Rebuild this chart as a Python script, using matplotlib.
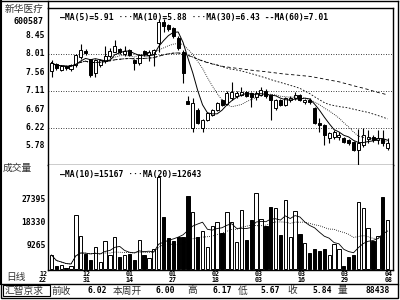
import numpy as np
import pandas as pd
import matplotlib
matplotlib.use("Agg")
import matplotlib.pyplot as plt
from matplotlib.patches import Rectangle

# ---------------- data ----------------
opens = [7.60, 7.76, 7.62, 7.72, 7.64, 7.74, 7.94, 8.08, 7.88, 7.55,
         7.74, 7.83, 7.95, 8.07, 8.12, 8.00, 8.10, 7.87, 7.80, 8.09,
         7.98, 8.00, 8.27, 8.78, 8.72, 8.64, 8.40, 8.07, 6.86, 6.20,
         6.65, 6.21, 6.40, 6.53, 6.65, 6.89, 6.80, 6.94, 7.00, 7.01,
         7.08, 7.06, 6.96, 7.01, 7.10, 7.01, 6.70, 6.89, 6.77, 6.88,
         6.94, 7.02, 6.84, 6.90, 6.69, 6.33, 6.28, 5.97, 5.99, 6.00,
         5.97, 5.92, 5.87, 5.68, 5.79, 5.95, 6.00, 5.92, 5.94, 5.72]
highs = [7.86, 7.78, 7.75, 7.74, 7.76, 8.02, 8.25, 8.12, 7.90, 7.90,
         7.90, 8.20, 8.15, 8.34, 8.16, 8.20, 8.12, 7.90, 8.00, 8.11,
         8.10, 8.12, 8.85, 8.85, 8.75, 8.66, 8.45, 8.10, 7.00, 6.94,
         6.70, 6.42, 6.60, 6.68, 6.85, 6.92, 7.10, 7.34, 7.12, 7.20,
         7.12, 7.08, 7.12, 7.20, 7.15, 7.03, 6.92, 6.92, 6.97, 6.98,
         7.08, 7.04, 6.92, 6.93, 6.72, 6.45, 6.30, 6.12, 6.15, 6.10,
         6.00, 5.95, 5.90, 6.19, 6.22, 6.15, 6.05, 6.17, 6.17, 5.96]
lows = [7.45, 7.62, 7.60, 7.62, 7.60, 7.70, 7.90, 7.98, 7.45, 7.46,
        7.70, 7.80, 7.92, 8.05, 8.00, 7.96, 7.95, 7.63, 7.75, 7.96,
        7.85, 7.72, 8.05, 8.55, 8.58, 8.40, 8.10, 7.30, 6.79, 6.12,
        6.30, 6.12, 6.38, 6.50, 6.62, 6.75, 6.78, 6.90, 6.95, 6.98,
        6.96, 6.72, 6.90, 6.98, 6.95, 6.40, 6.65, 6.75, 6.74, 6.85,
        6.90, 6.86, 6.80, 6.80, 6.30, 6.10, 5.80, 5.85, 5.95, 5.92,
        5.85, 5.80, 5.65, 5.30, 5.75, 5.85, 5.88, 5.82, 5.76, 5.67]
closes = [7.80, 7.66, 7.72, 7.66, 7.73, 7.99, 8.10, 8.03, 7.50, 7.86,
          7.86, 7.97, 8.08, 8.20, 8.07, 8.08, 7.98, 7.78, 7.99, 8.00,
          8.07, 8.10, 8.80, 8.70, 8.62, 8.45, 8.16, 7.54, 6.79, 6.81,
          6.33, 6.40, 6.57, 6.65, 6.82, 6.77, 7.05, 7.08, 7.06, 7.09,
          6.98, 6.96, 7.06, 7.13, 7.00, 6.89, 6.89, 6.77, 6.94, 6.95,
          7.02, 6.89, 6.88, 6.84, 6.33, 6.28, 6.04, 6.09, 6.11, 6.05,
          5.87, 5.84, 5.67, 5.85, 6.04, 6.00, 5.92, 5.96, 5.84, 5.84]
volumes = [5700, 1400, 1800, 500, 1400, 21500, 13200, 6100, 3700, 8700,
           3000, 11300, 5700, 12700, 5000, 5700, 6000, 3700, 11600, 5700,
           4700, 8000, 36600, 20600, 12300, 11300, 12900, 12900, 29000, 22800,
           12700, 15300, 8700, 17100, 18700, 14300, 22800, 18700, 10800, 23400,
           11600, 19500, 30000, 20000, 17100, 24700, 24100, 13500, 27400, 12900,
           23200, 13800, 10300, 6400, 8000, 7400, 8200, 5700, 10190, 8000,
           1400, 5000, 5700, 26600, 24200, 16200, 11300, 13200, 28500, 19570]
date_labels = ["12\n22", "12\n31", "01\n14", "01\n27", "02\n18",
               "03\n03", "03\n16", "03\n29", "04\n08"]
price_ticks = [8.45, 8.01, 7.56, 7.11, 6.67, 6.22, 5.78]
price_grid = [8.01, 7.11, 6.22]
vol_ticks = [27395, 18330, 9265]
stock_name = "新华医疗"
stock_code = "600587"
info_labels = ["前收", "本周开", "高", "低", "收", "量"]
info_values = ["6.02", "6.00", "6.17", "5.67", "5.84", "88438"]

# ---------------- setup ----------------
MONO = "DejaVu Sans Mono"
CJK = ["Noto Sans CJK SC", "DejaVu Sans"]
W, H = 400, 300

def fx(x):
    return x / W

def fy(y):
    return 1 - y / H

fig = plt.figure(figsize=(4, 3), dpi=100)
fig.patch.set_facecolor("white")

o = np.array(opens); h = np.array(highs); l = np.array(lows); c = np.array(closes)
v = np.array(volumes)
n = len(c)
x = np.arange(n)
up = c >= o

# price axes
ax = fig.add_axes([fx(48), fy(165), fx(345), 157 / H])
ax.set_xlim(-0.72, 70.1)
ax.set_ylim(5.309, 9.129)
for g in price_grid:
    ax.axhline(g, color="black", lw=0.6, ls=(0, (1, 2)), zorder=0)
ax.vlines(x, l, h, color="black", lw=0.8, zorder=2)
bw = 0.62
for i in range(n):
    lo_b = min(o[i], c[i]); hi_b = max(o[i], c[i])
    hgt = max(hi_b - lo_b, 0.012)
    ax.add_patch(Rectangle((x[i] - bw / 2, lo_b), bw, hgt,
                           facecolor="white" if up[i] else "black",
                           edgecolor="black", lw=0.7, zorder=3))
cs = pd.Series(c)
ma5 = cs.rolling(5, min_periods=1).mean()
ma10 = cs.rolling(10, min_periods=1).mean()
ma30 = cs.rolling(30, min_periods=1).mean()
ma60 = cs.rolling(60, min_periods=1).mean()
ax.plot(x, ma5, color="black", lw=0.7, zorder=4)
ax.plot(x, ma10, color="black", lw=0.6, ls=(0, (1, 1.5)), zorder=4)
ax.plot(x, ma30, color="black", lw=0.6, ls=(0, (2, 2)), zorder=4)
ax.plot(x, ma60, color="black", lw=0.6, ls=(0, (4, 3)), zorder=4)
ax.set_xticks([]); ax.set_yticks([])
for s in ax.spines.values():
    s.set_linewidth(1.0)
ax.text(0.035, 0.965, "—MA(5)=%.2f ···MA(10)=%.2f ···MA(30)=%.2f --MA(60)=%.2f"
        % (ma5.iloc[-1], ma10.iloc[-1], ma30.iloc[-1], ma60.iloc[-1]),
        transform=ax.transAxes, ha="left", va="top", fontsize=5.8,
        family=MONO, weight="bold")

# volume axes
axv = fig.add_axes([fx(48), fy(270), fx(345), 105 / H])
axv.set_xlim(-0.72, 70.1)
axv.set_ylim(-200, 41170)
axv.bar(x, v, width=0.68, color=["white" if u else "black" for u in up],
        edgecolor="black", lw=0.7, zorder=3)
vs = pd.Series(v.astype(float))
vma10 = vs.rolling(10, min_periods=1).mean()
vma20 = vs.rolling(20, min_periods=1).mean()
axv.plot(x, vma10, color="black", lw=0.6, zorder=4)
axv.plot(x, vma20, color="black", lw=0.6, ls=(0, (1, 1.5)), zorder=4)
axv.set_xticks([]); axv.set_yticks([])
for s in axv.spines.values():
    s.set_linewidth(1.0)
axv.spines["top"].set_visible(False)
axv.text(0.035, 0.95, "—MA(10)=%d ···MA(20)=%d" % (round(vma10.iloc[-1]), round(vma20.iloc[-1])),
         transform=axv.transAxes, ha="left", va="top", fontsize=5.8,
         family=MONO, weight="bold")

# left labels
fig.text(fx(44), fy(9), stock_name, ha="right", va="center", fontsize=7, family=CJK, color="#333")
fig.text(fx(44), fy(21), stock_code, ha="right", va="center", fontsize=6, family=MONO, weight="bold")
for t in price_ticks:
    ypx = 54 + (8.01 - t) * 41.1
    fig.text(fx(45), fy(ypx), "%.2f" % t, ha="right", va="center", fontsize=5.8, family=MONO, weight="bold")
fig.text(fx(3), fy(168), "成交量", ha="left", va="center", fontsize=7, family=CJK, color="#333")
for t in vol_ticks:
    ypx = 269.5 - t / 394
    fig.text(fx(46), fy(ypx), "%d" % t, ha="right", va="center", fontsize=5.8, family=MONO, weight="bold")
fig.text(fx(6), fy(277), "日线", ha="left", va="center", fontsize=7, family=CJK, color="#333")

# date labels
date_pos = np.linspace(-1.75, 69.1, len(date_labels))
for p, lab in zip(date_pos, date_labels):
    axv.text(p, -0.01, lab, transform=axv.get_xaxis_transform(), ha="center", va="top",
             fontsize=4.8, family=MONO, weight="bold", linespacing=0.95, clip_on=False)

# bottom info row
fig.add_artist(Rectangle((fx(1), fy(298)), fx(397), 14 / H, transform=fig.transFigure,
                         fill=False, edgecolor="black", lw=1.0))
fig.add_artist(Rectangle((fx(3), fy(296)), fx(47), 11 / H, transform=fig.transFigure,
                         fill=False, edgecolor="black", lw=0.8))
fig.text(fx(5), fy(290.5), "汇智京求", ha="left", va="center", fontsize=7, family=CJK, color="#333")
lab_x = [52, 113, 187, 238, 287, 338]
val_x = [107, 175, 232, 280, 332, 390]
for lx, lt, vx, vt in zip(lab_x, info_labels, val_x, info_values):
    fig.text(fx(lx), fy(290.5), lt, ha="left", va="center", fontsize=7, family=CJK, color="#333")
    fig.text(fx(vx), fy(290.5), vt, ha="right", va="center", fontsize=5.8, family=MONO, weight="bold")

# outer frame
fig.add_artist(plt.Line2D([fx(1), fx(1)], [fy(1), fy(284)], transform=fig.transFigure, color="black", lw=1.5))
fig.add_artist(plt.Line2D([fx(1), fx(398)], [fy(1), fy(1)], transform=fig.transFigure, color="black", lw=1.0))
fig.add_artist(plt.Line2D([fx(397.5), fx(397.5)], [fy(1), fy(284)], transform=fig.transFigure, color="black", lw=1.0))
fig.add_artist(plt.Line2D([fx(48), fx(48)], [fy(1), fy(8)], transform=fig.transFigure, color="black", lw=1.0))

fig.savefig("out.png", dpi=100)
